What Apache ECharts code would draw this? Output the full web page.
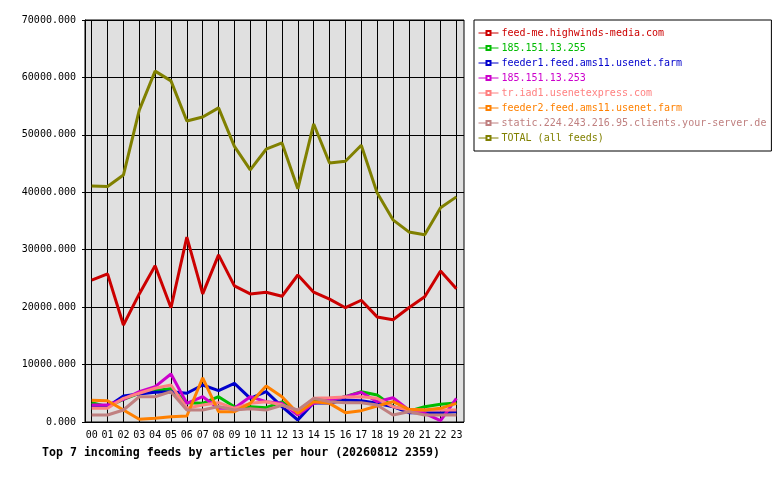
<!DOCTYPE html>
<html>
<head>
<meta charset="utf-8">
<script src="https://cdn.jsdelivr.net/npm/echarts@6/dist/echarts.min.js"></script>
<style>
  html, body { margin: 0; padding: 0; background: #fff; }
  #chart { width: 780px; height: 480px; }
</style>
</head>
<body>
<div id="chart"></div>
<script>
// hours 00..23
const hours = ['00','01','02','03','04','05','06','07','08','09','10','11',
               '12','13','14','15','16','17','18','19','20','21','22','23']

const feedNames = [
  'feed-me.highwinds-media.com',
  '185.151.13.255',
  'feeder1.feed.ams11.usenet.farm',
  '185.151.13.253',
  'tr.iad1.usenetexpress.com',
  'feeder2.feed.ams11.usenet.farm',
  'static.224.243.216.95.clients.your-server.de',
  'TOTAL (all feeds)'
]
const feedColors = ['#cc0000', '#00bb00', '#0000cc', '#cc00cc', '#ff8080', '#ff8000', '#c08080', '#808000']

// articles per hour
const highwinds = [24700, 25800, 16900, 22300, 27200, 19900, 32200, 22300, 29100, 23700, 22300, 22600,
                   21900, 25600, 22600, 21400, 19900, 21200, 18300, 17800, 19900, 21800, 26300, 23200]
const ip255 = [3370, 2670, 3950, 5000, 5500, 5800, 3370, 3250, 4400, 2670, 2670, 2500,
               3500, 1800, 3600, 3800, 4400, 5280, 4700, 2700, 1900, 2670, 3080, 3300]
const feeder1 = [2670, 2670, 4530, 4880, 5170, 5280, 5000, 6440, 5450, 6740, 4120, 5280,
                 2670, 350, 3370, 3300, 3830, 3700, 3250, 2670, 1630, 1630, 1630, 1800]
const ip253 = [2960, 2960, 3950, 5280, 6150, 8360, 3250, 4400, 2380, 2380, 4400, 3540,
               3250, 1220, 3250, 3830, 4400, 5170, 3540, 4230, 2090, 1510, 230, 4120]
const iad1 = [2380, 2380, 4120, 5000, 5870, 6440, 2380, 2960, 3370, 2380, 3250, 3540,
              3000, 1800, 4120, 4230, 4350, 4400, 4120, 2670, 2090, 2090, 2090, 2090]
const feeder2 = [3780, 3700, 2100, 470, 640, 930, 1050, 7700, 1800, 1800, 3250, 6270,
                 4400, 1500, 3540, 3250, 1630, 1970, 2790, 3540, 2200, 2090, 2380, 3250]
const yourServer = [1220, 1220, 2090, 4400, 4400, 5280, 2090, 2090, 2700, 2100, 2300, 2100,
                    2900, 2090, 4120, 3540, 3370, 3370, 2960, 1220, 1800, 1220, 1220, 1220]
const total = [41100, 41000, 43000, 54300, 61100, 59400, 52400, 53100, 54700, 48000, 43900, 47500,
               48600, 40600, 51900, 45100, 45400, 48200, 39900, 35200, 33100, 32600, 37300, 39200]

const feedValues = [highwinds, ip255, feeder1, ip253, iad1, feeder2, yourServer, total]

const mono = 'DejaVu Sans Mono'

let chart = echarts.init(document.getElementById('chart'))

let seriesList = feedNames.map((name, i) => ({
  name: name,
  type: 'line',
  xAxisIndex: 1,
  yAxisIndex: 1,
  data: feedValues[i],
  color: feedColors[i],
  symbol: 'emptyRect',
  showSymbol: false,
  lineStyle: { width: 3 },
  emphasis: { disabled: true },
  animation: false,
}))

chart.setOption({
  animation: false,
  title: {
    text: 'Top 7 incoming feeds by articles per hour (20260812 2359)',
    left: 37,
    top: 442,
    textStyle: { fontFamily: mono, fontWeight: 'bold', fontSize: 11.6, color: '#000' },
  },
  legend: {
    orient: 'vertical',
    left: 474,
    top: 20,
    padding: [7, 5, 7, 4],
    borderColor: '#000',
    borderWidth: 1,
    itemWidth: 20,
    itemHeight: 5,
    itemGap: 3,
    selectedMode: false,
    lineStyle: { width: 1 },
    itemStyle: { borderWidth: 1 },
    textStyle: { fontFamily: mono, fontSize: 10, lineHeight: 12, padding: [0, 0, 0, -2] },
    data: feedNames.map((name, i) => ({ name: name, textStyle: { color: feedColors[i] } })),
  },
  grid: [
    // grey frame
    { left: 85, right: 316, top: 20, bottom: 58, show: true, backgroundColor: '#e0e0e0',
      borderColor: '#000', borderWidth: 1 },
    // data area, hour 00..23
    { left: 91.7, right: 323.6, top: 20, bottom: 58 },
  ],
  xAxis: [
    { type: 'value', gridIndex: 0, min: 0, max: 1, show: false },
    {
      type: 'category',
      gridIndex: 1,
      data: hours,
      boundaryGap: false,
      axisLine: { show: false },
      axisTick: { show: false },
      axisLabel: { fontFamily: mono, fontSize: 10, color: '#000', margin: 8, interval: 0 },
      splitLine: { show: true, interval: 0, lineStyle: { color: '#000', width: 1 } },
    },
  ],
  yAxis: [
    {
      type: 'value',
      gridIndex: 0,
      min: 0,
      max: 70000,
      interval: 10000,
      axisLine: { show: true, lineStyle: { color: '#000' } },
      axisTick: { show: true, length: 3, lineStyle: { color: '#000' } },
      axisLabel: { fontFamily: mono, fontSize: 10, color: '#000', margin: 9,
                   formatter: (v) => v.toFixed(3) },
      splitLine: { show: true, lineStyle: { color: '#000', width: 1 } },
    },
    { type: 'value', gridIndex: 1, min: 0, max: 70000, show: false },
  ],
  series: seriesList,
})
</script>
</body>
</html>
